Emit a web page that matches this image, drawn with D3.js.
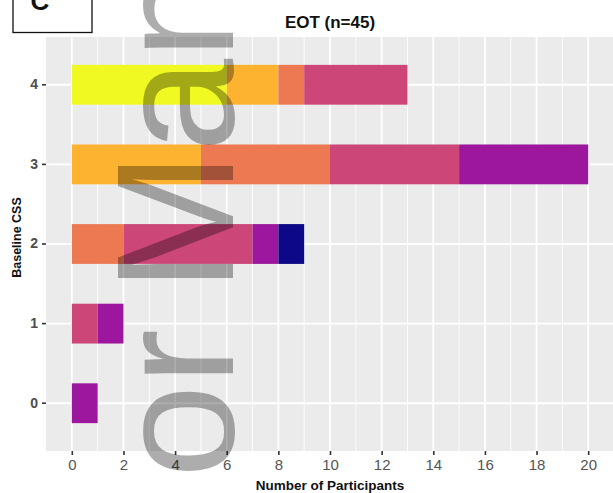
<!DOCTYPE html>
<html>
<head>
<meta charset="utf-8">
<script src="https://cdn.jsdelivr.net/npm/d3@7"></script>
<style>
  html, body { margin: 0; padding: 0; background: #fff; }
  svg { display: block; }
</style>
</head>
<body>
<svg id="chart" width="613" height="493"></svg>
<script>
// Baseline CSS categories (y axis) and participant counts per EOT level
const categories = ["0", "1", "2", "3", "4"];
const levels = ["0", "1", "2", "3", "4", "5", "6"];
const countsLevel0 = [0, 0, 1, 0, 0];
const countsLevel1 = [0, 0, 0, 0, 0];
const countsLevel2 = [1, 1, 1, 5, 0];
const countsLevel3 = [0, 1, 5, 5, 4];
const countsLevel4 = [0, 0, 2, 5, 1];
const countsLevel5 = [0, 0, 0, 5, 2];
const countsLevel6 = [0, 0, 0, 0, 6];
const levelColors = ["#0D0887", "#5D01A6", "#9C179E", "#CC4678", "#ED7953", "#FDB32F", "#F0F921"];
const xTicks = [0, 2, 4, 6, 8, 10, 12, 14, 16, 18, 20];
const xMinor = [1, 3, 5, 7, 9, 11, 13, 15, 17, 19];

const allCounts = [countsLevel0, countsLevel1, countsLevel2, countsLevel3, countsLevel4, countsLevel5, countsLevel6];
const rows = categories.map((c, i) => {
  const r = { cat: c };
  levels.forEach((l, j) => { r[l] = allCounts[j][i]; });
  return r;
});

const svg = d3.select("#chart");
const panel = { left: 46, top: 37, right: 614, bottom: 451 };

const x = d3.scaleLinear().domain([-1, 21]).range([panel.left, panel.right]);
const y = d3.scaleBand().domain(categories.slice().reverse())
  .range([panel.top, panel.bottom]).paddingInner(0.5).paddingOuter(0.35);
const color = d3.scaleOrdinal().domain(levels).range(levelColors);

// panel background
svg.append("rect")
  .attr("x", panel.left).attr("y", panel.top)
  .attr("width", panel.right - panel.left).attr("height", panel.bottom - panel.top)
  .attr("fill", "#ebebeb");

// grid lines
const grid = svg.append("g");
grid.selectAll("line.minor").data(xMinor).join("line")
  .attr("x1", d => x(d)).attr("x2", d => x(d))
  .attr("y1", panel.top).attr("y2", panel.bottom)
  .attr("stroke", "#fff").attr("stroke-width", 0.9);
grid.selectAll("line.major").data(xTicks).join("line")
  .attr("x1", d => x(d)).attr("x2", d => x(d))
  .attr("y1", panel.top).attr("y2", panel.bottom)
  .attr("stroke", "#fff").attr("stroke-width", 1.8);
grid.selectAll("line.hmajor").data(categories).join("line")
  .attr("x1", panel.left).attr("x2", panel.right)
  .attr("y1", d => y(d) + y.bandwidth() / 2).attr("y2", d => y(d) + y.bandwidth() / 2)
  .attr("stroke", "#fff").attr("stroke-width", 1.8);

// stacked bars: highest level on the left
const stack = d3.stack().keys(levels.slice().reverse());
const series = stack(rows);
svg.append("g").selectAll("g").data(series).join("g")
  .attr("fill", d => color(d.key))
  .selectAll("rect").data(d => d.filter(s => s[1] > s[0])).join("rect")
  .attr("x", d => x(d[0]))
  .attr("width", d => x(d[1]) - x(d[0]))
  .attr("y", d => y(d.data.cat))
  .attr("height", y.bandwidth());

// x axis
const xAxis = svg.append("g").attr("transform", `translate(0,${panel.bottom})`)
  .call(d3.axisBottom(x).tickValues(xTicks).tickSize(4).tickPadding(4));
xAxis.select(".domain").remove();
xAxis.selectAll(".tick line").attr("stroke", "#333").attr("stroke-width", 1.6);
xAxis.selectAll(".tick text")
  .attr("fill", "#555").attr("font-family", "Liberation Sans, Arial, sans-serif")
  .attr("font-size", 15);

// y axis
const yAxis = svg.append("g").attr("transform", `translate(${panel.left},0)`)
  .call(d3.axisLeft(y).tickSize(4).tickPadding(4));
yAxis.select(".domain").remove();
yAxis.selectAll(".tick line").attr("stroke", "#333").attr("stroke-width", 1.6);
yAxis.selectAll(".tick text")
  .attr("fill", "#4d4d4d").attr("font-family", "Liberation Sans, Arial, sans-serif")
  .attr("font-size", 14).attr("font-weight", "bold");

// titles
svg.append("text")
  .attr("x", 330).attr("y", 28)
  .attr("text-anchor", "middle")
  .attr("font-family", "Liberation Sans, Arial, sans-serif")
  .attr("font-size", 17).attr("font-weight", "bold").attr("fill", "#111")
  .text("EOT (n=45)");

svg.append("text")
  .attr("x", 330).attr("y", 490)
  .attr("text-anchor", "middle")
  .attr("font-family", "Liberation Sans, Arial, sans-serif")
  .attr("font-size", 13.5).attr("font-weight", "bold").attr("fill", "#111")
  .text("Number of Participants");

svg.append("text")
  .attr("transform", "translate(21,237.5) rotate(-90)")
  .attr("text-anchor", "middle")
  .attr("font-family", "Liberation Sans, Arial, sans-serif")
  .attr("font-size", 12.5).attr("font-weight", "bold").attr("fill", "#111")
  .text("Baseline CSS");

// panel letter box
svg.append("rect")
  .attr("x", 13).attr("y", -10).attr("width", 79).attr("height", 42.5)
  .attr("fill", "#fff").attr("stroke", "#111").attr("stroke-width", 1.3);
svg.append("text")
  .attr("x", 40).attr("y", 9.5)
  .attr("text-anchor", "middle")
  .attr("font-family", "Liberation Sans, Arial, sans-serif")
  .attr("font-size", 26).attr("font-weight", "bold").attr("fill", "#111")
  .text("C");

// translucent overlay lettering (rotated; second word placed explicitly)
const overlay = svg.append("text")
  .attr("transform", "translate(233,478) rotate(-90)")
  .attr("font-family", "Liberation Sans, Arial, sans-serif")
  .attr("font-size", 167.6)
  .attr("fill", "#000").attr("fill-opacity", 0.32);
overlay.append("tspan").attr("x", 0).text("or");
overlay.append("tspan").attr("x", 186.3).text("Man");
</script>
</body>
</html>
